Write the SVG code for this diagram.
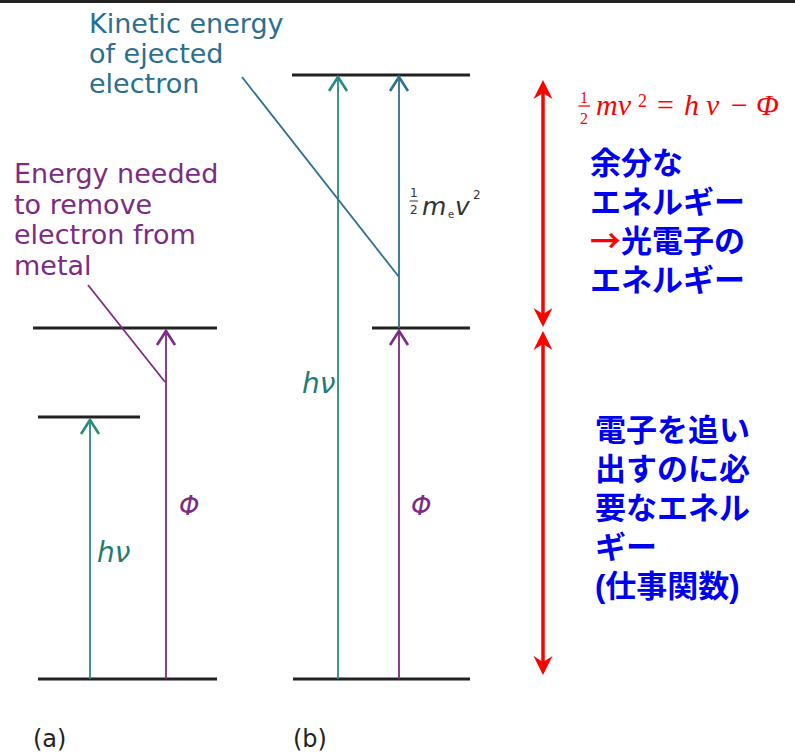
<svg xmlns="http://www.w3.org/2000/svg" width="795" height="756" viewBox="0 0 795 756">
<style>
.lvl{stroke:#222;stroke-width:3;fill:none}
.teal{stroke:#2a8a7e;stroke-width:1.8;fill:none}
.purp{stroke:#7d2a82;stroke-width:1.8;fill:none}
.blu{stroke:#2f6f90;stroke-width:1.8;fill:none}
.red{stroke:#ff0000;stroke-width:3.5;fill:none}
.lab{font-family:"DejaVu Sans",sans-serif;font-size:27px}
.it{font-family:"DejaVu Sans",sans-serif;font-style:italic}
.jp{font-family:"Liberation Sans","Noto Sans CJK JP",sans-serif;font-weight:bold;font-size:31px;fill:#0000f0}
.eqi{font-family:"Liberation Serif",serif;font-style:italic;fill:#ff0000;font-size:30px}
.eqn{font-family:"Liberation Serif",serif;fill:#ff0000}
</style>
<defs>
<marker id="aT" markerUnits="userSpaceOnUse" orient="auto" refX="0" refY="0" markerWidth="30" markerHeight="30" overflow="visible"><path d="M-14,-9 L0,0 L-14,9" fill="none" stroke="#2a8a7e" stroke-width="2.6"/></marker>
<marker id="aP" markerUnits="userSpaceOnUse" orient="auto" refX="0" refY="0" markerWidth="30" markerHeight="30" overflow="visible"><path d="M-14,-9 L0,0 L-14,9" fill="none" stroke="#7d2a82" stroke-width="2.6"/></marker>
<marker id="aB" markerUnits="userSpaceOnUse" orient="auto" refX="0" refY="0" markerWidth="30" markerHeight="30" overflow="visible"><path d="M-14,-9 L0,0 L-14,9" fill="none" stroke="#2f6f90" stroke-width="2.6"/></marker>
<marker id="aR" markerUnits="userSpaceOnUse" orient="auto-start-reverse" refX="-10" refY="0" markerWidth="30" markerHeight="30" overflow="visible"><path d="M0,0 L-19,-9.5 L-13,0 L-19,9.5 Z" fill="#ff0000"/></marker>
</defs>
<rect x="0" y="0" width="795" height="3" fill="#222"/>
<g id="levels">
<line class="lvl" x1="38" y1="679" x2="217" y2="679"/>
<line class="lvl" x1="38" y1="417" x2="140" y2="417"/>
<line class="lvl" x1="33" y1="328" x2="217" y2="328"/>
<line class="lvl" x1="293" y1="679" x2="470" y2="679"/>
<line class="lvl" x1="292" y1="75" x2="470" y2="75"/>
<line class="lvl" x1="372" y1="328" x2="470" y2="328"/>
</g>
<g id="connectors">
<line class="teal" x1="90" y1="679" x2="90" y2="420" marker-end="url(#aT)"/>
<line class="purp" x1="166" y1="679" x2="166" y2="331" marker-end="url(#aP)"/>
<line class="purp" x1="88" y1="285" x2="165" y2="382"/>
<line class="teal" x1="338" y1="679" x2="338" y2="77" marker-end="url(#aT)"/>
<line class="purp" x1="399" y1="679" x2="399" y2="331" marker-end="url(#aP)"/>
<line class="blu" x1="399" y1="328" x2="399" y2="77" marker-end="url(#aB)"/>
<line class="blu" x1="242" y1="77" x2="399" y2="277"/>
<line class="red" x1="543" y1="90" x2="543" y2="317" marker-start="url(#aR)" marker-end="url(#aR)"/>
<line class="red" x1="543" y1="341" x2="543" y2="665" marker-start="url(#aR)" marker-end="url(#aR)"/>
</g>
<g id="kinetic-label" class="lab" fill="#2b6f8f">
<text x="89" y="33">Kinetic energy</text>
<text x="89" y="63">of ejected</text>
<text x="89" y="93">electron</text>
</g>
<g id="energy-label" class="lab" fill="#7d2a82">
<text x="14" y="183">Energy needed</text>
<text x="14" y="213.5">to remove</text>
<text x="14" y="244">electron from</text>
<text x="14" y="274.5">metal</text>
</g>
<g id="a-labels">
<text class="it" x="97" y="562" font-size="28" fill="#1f7d70">hν</text>
<text class="it" x="179" y="515" font-size="26" fill="#7d2a82">Φ</text>
<text x="33" y="747" font-family="DejaVu Sans,sans-serif" font-size="24" fill="#222">(a)</text>
</g>
<g id="b-labels">
<text class="it" x="302" y="393" font-size="28" fill="#1f7d70">hν</text>
<text class="it" x="411" y="515" font-size="26" fill="#7d2a82">Φ</text>
<text x="293" y="747" font-family="DejaVu Sans,sans-serif" font-size="24" fill="#222">(b)</text>
<g fill="#333" font-family="DejaVu Sans,sans-serif">
<text x="410" y="197" font-size="12">1</text>
<line x1="409.5" y1="201" x2="418" y2="201" stroke="#333" stroke-width="1"/>
<text x="410" y="214" font-size="12">2</text>
<text class="it" x="422" y="215" font-size="25">m</text>
<text x="448" y="218" font-size="10">e</text>
<text class="it" x="455" y="215" font-size="25">v</text>
<text x="473" y="199" font-size="12">2</text>
</g>
</g>
<g id="formula">
<text class="eqn" x="580" y="103" font-size="16">1</text>
<line x1="578.5" y1="106" x2="590" y2="106" stroke="#ff0000" stroke-width="1.3"/>
<text class="eqn" x="580" y="124" font-size="16">2</text>
<text class="eqi" x="596" y="115">mv</text>
<text class="eqn" x="638" y="107" font-size="18">2</text>
<text class="eqn" x="657" y="115" font-size="30">=</text>
<text class="eqi" x="684" y="115">h</text>
<text class="eqi" x="706" y="115">ν</text>
<text class="eqn" x="731" y="115" font-size="30">−</text>
<text class="eqi" x="756" y="115">Φ</text>
</g>
<g id="excess-text" class="jp">
<text x="590" y="174">余分な</text>
<text x="590" y="213">エネルギー</text>
<text x="590" y="252"><tspan fill="#ff0000" font-family="Noto Sans CJK JP,sans-serif">→</tspan>光電子の</text>
<text x="590" y="291">エネルギー</text>
</g>
<g id="workfunction-text" class="jp">
<text x="595" y="441">電子を追い</text>
<text x="595" y="480">出すのに必</text>
<text x="595" y="519">要なエネル</text>
<text x="595" y="558">ギー</text>
<text x="595" y="597">(仕事関数)</text>
</g>
</svg>
